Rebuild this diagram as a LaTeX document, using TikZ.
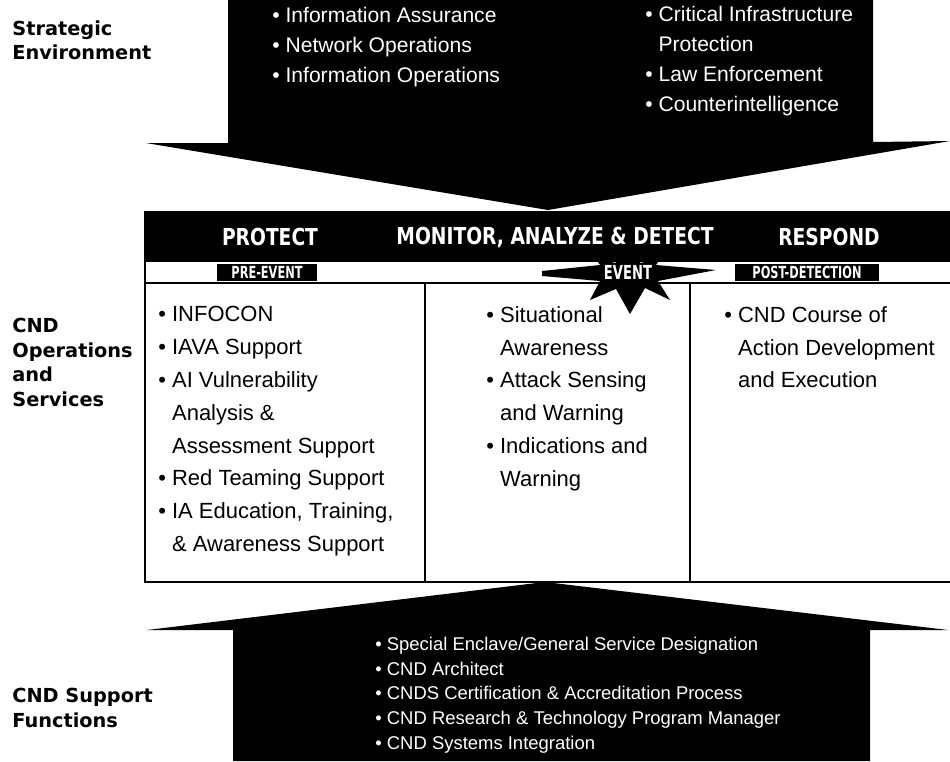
\documentclass[tikz,border=0pt]{standalone}
\usepackage{fontspec}
\setmainfont{Liberation Sans}
\newfontfamily\headfont[FakeStretch=0.8]{DejaVu Sans}
\newfontfamily\tagfont[FakeStretch=0.68]{DejaVu Sans}
\newfontfamily\sidefont{DejaVu Sans}
\usetikzlibrary{positioning}
\newcommand{\dotitem}{\textbullet\ }
\newcommand{\dotgap}{\hphantom{\textbullet\ }}

\begin{document}
\begin{tikzpicture}[x=0.02cm,y=-0.02cm,
    side/.style={anchor=north west,align=left,inner sep=0pt,
      font=\sidefont\bfseries\fontsize{11}{14}\selectfont},
    head/.style={text=white,inner sep=0pt,font=\headfont\bfseries\fontsize{13.3}{14}\selectfont},
    tag/.style={fill=black,text=white,inner sep=0pt,minimum height=0.34cm,
      font=\tagfont\bfseries\fontsize{9.5}{10}\selectfont},
    list/.style={anchor=north west,align=left,inner sep=0pt,
      font=\fontsize{12.5}{18.7}\selectfont},
    wlist/.style={list,text=white}]
\useasboundingbox (0,0) rectangle (950,761);

% labels on the left
\node [side] (strat) at (12,20) {Strategic\\Environment};
\node [side] (ops) at (12,318) {CND\\Operations\\and\\Services};
\node [side] (supp) at (12,688) {CND Support\\Functions};

% strategic environment arrow
\fill (228,0) -- (873,0) -- (873,142) -- (950,141) -- (548,210)
  -- (146,143) -- (228,143) -- cycle;
\node [wlist,font=\fontsize{12}{17}\selectfont] (assure) at (272,7)
  {\dotitem Information Assurance\\\dotitem Network Operations\\
   \dotitem Information Operations};
\node [wlist,font=\fontsize{12}{17}\selectfont] (infra) at (645,6)
  {\dotitem Critical Infrastructure\\\dotgap Protection\\
   \dotitem Law Enforcement\\\dotitem Counterintelligence};

% operations and services table
\fill (145,212) rectangle (950,262);
\draw [line width=1.2pt] (145,212) rectangle (952,582);
\draw [line width=1.6pt] (145,283) -- (950,283);
\draw [line width=0.9pt] (425,283) -- (425,582)
  (690,283) -- (690,582);
\node [head] (protect) at (270,237) {PROTECT};
\node [head] (monitor) at (555,237) {MONITOR, ANALYZE \& DETECT};
\node [head] (respond) at (829,237) {RESPOND};

\node [tag,minimum width=2cm] (pre) at (267,272) {PRE-EVENT};
\node [tag,minimum width=2.9cm] (post) at (807,272) {POST-DETECTION};
\fill (542,271) -- (600,265) -- (594,256) -- (615,263) -- (628,253)
  -- (641,263) -- (662,256) -- (656,265) -- (716,270) -- (658,281)
  -- (670,300) -- (645,288) -- (630,314) -- (616,289) -- (590,300)
  -- (600,281) -- (542,276) -- cycle;
\node [tag,fill=none,font=\tagfont\bfseries\fontsize{11}{12}\selectfont] (event) at (628,272) {EVENT};

\node [list] (prot) at (158,306)
  {\dotitem INFOCON\\\dotitem IAVA Support\\\dotitem AI Vulnerability\\
   \dotgap Analysis \&\\\dotgap Assessment Support\\
   \dotitem Red Teaming Support\\\dotitem IA Education, Training,\\
   \dotgap \& Awareness Support};
\node [list] (detect) at (486,306)
  {\dotitem Situational\\\dotgap Awareness\\\dotitem Attack Sensing\\
   \dotgap and Warning\\\dotitem Indications and\\\dotgap Warning};
\node [list] (resp) at (724,306)
  {\dotitem CND Course of\\\dotgap Action Development\\\dotgap and Execution};

% support functions arrow
\fill (545,582) -- (948,630) -- (870,630) -- (870,761) -- (233,761)
  -- (233,630) -- (147,630) -- cycle;
\node [wlist,font=\fontsize{10.5}{14}\selectfont] (func) at (375,637)
  {\dotitem Special Enclave/General Service Designation\\
   \dotitem CND Architect\\
   \dotitem CNDS Certification \& Accreditation Process\\
   \dotitem CND Research \& Technology Program Manager\\
   \dotitem CND Systems Integration};
\end{tikzpicture}
\end{document}
